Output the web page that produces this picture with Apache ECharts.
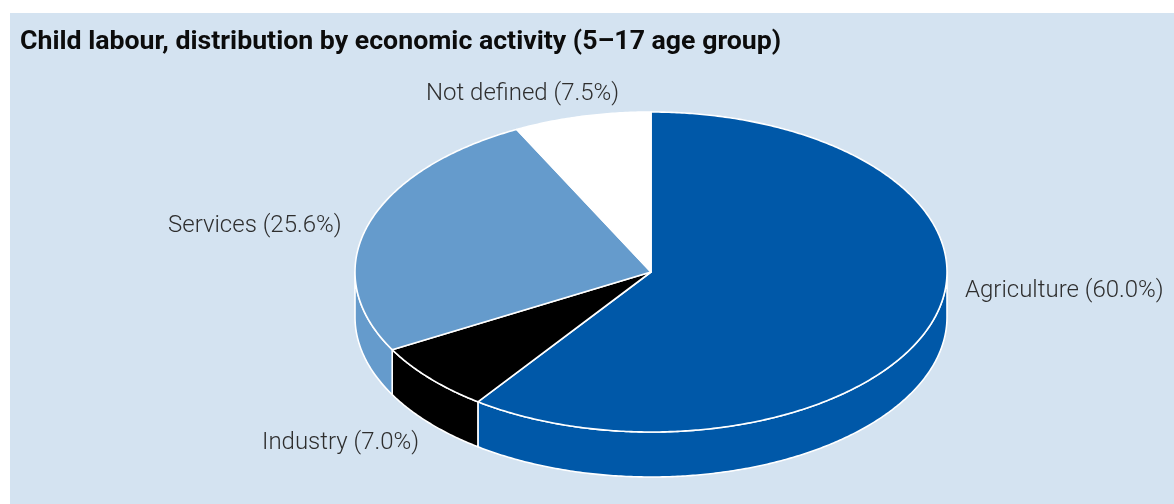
<!DOCTYPE html>
<html>
<head>
<meta charset="utf-8">
<title>Child labour by economic activity</title>
<script src="https://cdn.jsdelivr.net/npm/echarts@6/dist/echarts.min.js"></script>
<style>
  html, body { margin: 0; padding: 0; background: #ffffff; }
  #chart { width: 1174px; height: 504px; }
</style>
</head>
<body>
<div id="chart"></div>
<script>
const chartTitle = 'Child labour, distribution by economic activity (5\u201317 age group)';
const categories = ['Agriculture', 'Industry', 'Services', 'Not defined'];
const shares = [60.0, 7.0, 25.6, 7.5];
const sliceColors = ['#0058a8', '#000000', '#659bcc', '#ffffff'];

// Left edge and vertical centre of each slice label.
const labelAnchors = [[965, 291], [262, 443], [168, 226], [426, 94]];

// Tilted disc geometry.
const disc = { cx: 651, cy: 272, rx: 296, ry: 160, depth: 45 };
const outline = { stroke: '#ffffff', lineWidth: 1.6, lineJoin: 'round' };

const total = shares.reduce((sum, v) => sum + v, 0);

// Point on the rim; the angle runs clockwise from twelve o'clock, in degrees.
function rim(deg, drop) {
  const t = deg * Math.PI / 180;
  return [disc.cx + disc.rx * Math.sin(t), disc.cy - disc.ry * Math.cos(t) + (drop || 0)];
}

function arc(from, to, drop) {
  const pts = [];
  const steps = Math.max(2, Math.ceil(Math.abs(to - from) * 2));
  for (let i = 0; i <= steps; i++) {
    pts.push(rim(from + (to - from) * i / steps, drop));
  }
  return pts;
}

function renderSlice(params, api) {
  const i = params.dataIndex;
  const value = api.value(0);
  let before = 0;
  for (let k = 0; k < i; k++) before += shares[k];
  const a0 = before / total * 360;
  const a1 = a0 + value / total * 360;
  const children = [];

  // Outer wall: only the part of the rim facing the viewer shows.
  const w0 = Math.max(a0, 90);
  const w1 = Math.min(a1, 270);
  if (w1 > w0) {
    const wall = arc(w0, w1, 0).concat(arc(w1, w0, disc.depth));
    children.push({
      type: 'polygon', z2: 1,
      shape: { points: wall },
      style: Object.assign({ fill: sliceColors[i] }, outline)
    });
  }

  // Top face.
  const top = [[disc.cx, disc.cy]].concat(arc(a0, a1, 0));
  children.push({
    type: 'polygon', z2: 2,
    shape: { points: top },
    style: Object.assign({ fill: sliceColors[i] }, outline)
  });

  children.push({
    type: 'text', z2: 3,
    x: labelAnchors[i][0], y: labelAnchors[i][1],
    style: {
      text: categories[i] + ' (' + value.toFixed(1) + '%)',
      fill: '#2e2e2e',
      font: '300 24px Roboto, "Liberation Sans", sans-serif',
      align: 'left', verticalAlign: 'middle'
    }
  });
  return { type: 'group', children: children };
}

const chart = echarts.init(document.getElementById('chart'), null, { renderer: 'canvas' });
chart.setOption({
  animation: false,
  backgroundColor: '#ffffff',
  title: {
    text: chartTitle, left: 20, top: 29, padding: 0,
    textStyle: { color: '#0c0c0c', fontFamily: 'Roboto, "Liberation Sans", sans-serif', fontWeight: 'bold', fontSize: 26.7 }
  },
  graphic: [{
    type: 'rect', z: -10, silent: true,
    shape: { x: 10, y: 13, width: 1164, height: 491 },
    style: { fill: '#d4e3f1' }
  }],
  series: [{
    type: 'custom',
    coordinateSystem: 'none',
    silent: true,
    renderItem: renderSlice,
    data: shares.map(v => [v])
  }]
});
</script>
</body>
</html>
